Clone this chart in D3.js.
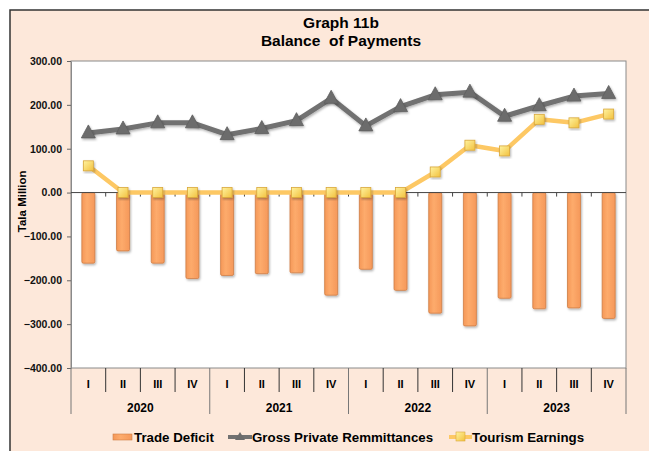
<!DOCTYPE html>
<html>
<head>
<meta charset="utf-8">
<script src="https://cdn.jsdelivr.net/npm/d3@7"></script>
<style>
  body { margin: 0; background: #fff; }
  svg { display: block; font-family: "Liberation Sans", Arial, sans-serif; }
</style>
</head>
<body>
<div id="chart"></div>
<script>
const quarters = ["I", "II", "III", "IV", "I", "II", "III", "IV", "I", "II", "III", "IV", "I", "II", "III", "IV"];
const years = ["2020", "2021", "2022", "2023"];
const tradeDeficit = [-161, -133, -161, -196, -189, -185, -183, -234, -175, -223, -275, -304, -241, -265, -263, -287];
const remittances = [136, 145, 159, 159, 132, 146, 164, 215, 152, 196, 223, 229, 174, 198, 220, 226];
const tourism = [61, 0, 0, 0, 0, 0, 0, 0, 0, 0, 47, 108, 95, 167, 159, 179];
const yTicks = [-400, -300, -200, -100, 0, 100, 200, 300];

const w = 649;
const h = 451;
const plotL = 71, plotR = 626, plotT = 61, plotB = 368;

const svg = d3
  .select("#chart")
  .append("svg")
  .attr("width", w)
  .attr("height", h);

const defs = svg.append("defs");

const barGrad = defs.append("linearGradient").attr("id", "barGrad").attr("x1", 0).attr("x2", 1);
barGrad.append("stop").attr("offset", "0%").attr("stop-color", "#f59858");
barGrad.append("stop").attr("offset", "40%").attr("stop-color", "#fdab6c");
barGrad.append("stop").attr("offset", "100%").attr("stop-color", "#f5985a");

const sqGrad = defs.append("linearGradient").attr("id", "sqGrad").attr("x1", 0).attr("y1", 0).attr("x2", 1).attr("y2", 1);
sqGrad.append("stop").attr("offset", "0%").attr("stop-color", "#fff3a0");
sqGrad.append("stop").attr("offset", "100%").attr("stop-color", "#f2c13e");

const shadow = defs.append("filter").attr("id", "shadow")
  .attr("x", "-30%").attr("y", "-30%").attr("width", "160%").attr("height", "160%");
shadow.append("feDropShadow")
  .attr("dx", 1).attr("dy", 1.5).attr("stdDeviation", 1)
  .attr("flood-color", "#000").attr("flood-opacity", 0.3);

// background panel
svg.append("rect")
  .attr("x", 10).attr("y", 10)
  .attr("width", w + 20).attr("height", h + 20)
  .attr("fill", "#fde8da")
  .attr("stroke", "#333")
  .attr("stroke-width", 1.5);

svg.append("text")
  .text("Graph 11b")
  .attr("x", 341).attr("y", 28)
  .attr("text-anchor", "middle")
  .attr("font-size", 15.5).attr("font-weight", "bold");

svg.append("text")
  .text("Balance  of Payments")
  .attr("x", 341).attr("y", 46)
  .attr("text-anchor", "middle")
  .attr("font-size", 15.5).attr("font-weight", "bold")
  .style("white-space", "pre");

// plot area
svg.append("rect")
  .attr("x", plotL).attr("y", plotT)
  .attr("width", plotR - plotL).attr("height", plotB - plotT)
  .attr("fill", "#fff")
  .attr("stroke", "#8a8a8a");

const x = d3.scaleBand().domain(d3.range(16)).range([plotL, plotR]);
const y = d3.scaleLinear().domain([-400, 300]).range([plotB, plotT]);
const cx = (i) => x(i) + x.bandwidth() / 2;

const yAxis = svg.append("g")
  .attr("transform", `translate(${plotL},0)`)
  .call(d3.axisLeft(y).tickValues(yTicks).tickFormat(d3.format(".2f")).tickSize(4).tickSizeOuter(0));
yAxis.select(".domain").attr("stroke", "#8a8a8a");
yAxis.selectAll(".tick line").attr("stroke", "#666");
yAxis.selectAll(".tick text")
  .attr("x", -9)
  .attr("font-size", 10.5).attr("font-weight", "bold")
  .attr("font-family", "Liberation Sans, Arial, sans-serif")
  .attr("fill", "#111");

svg.append("text")
  .text("Tala Million")
  .attr("transform", `translate(26,${y(-20)}) rotate(-90)`)
  .attr("text-anchor", "middle")
  .attr("font-size", 11.5).attr("font-weight", "bold");

// bars
svg.append("g")
  .selectAll("rect")
  .data(tradeDeficit)
  .enter()
  .append("rect")
  .attr("x", (d, i) => cx(i) - 6.5)
  .attr("y", y(0))
  .attr("width", 13)
  .attr("height", (d) => y(d) - y(0))
  .attr("rx", 1.5)
  .attr("fill", "url(#barGrad)")
  .attr("stroke", "#cf7d45")
  .attr("stroke-width", 0.8)
  .attr("filter", "url(#shadow)");

// zero line with category ticks
svg.append("line")
  .attr("x1", plotL).attr("x2", plotR)
  .attr("y1", y(0)).attr("y2", y(0))
  .attr("stroke", "#444").attr("stroke-width", 1);

svg.append("g")
  .selectAll("line")
  .data(d3.range(1, 16))
  .enter()
  .append("line")
  .attr("x1", (d) => x(d)).attr("x2", (d) => x(d))
  .attr("y1", y(0)).attr("y2", y(0) + 4)
  .attr("stroke", "#444");

// remittances
const line = d3.line().x((d, i) => cx(i)).y((d) => y(d));

svg.append("path")
  .datum(remittances)
  .attr("d", line)
  .attr("fill", "none")
  .attr("stroke", "#717171")
  .attr("stroke-width", 5)
  .attr("stroke-linejoin", "round")
  .attr("filter", "url(#shadow)");

svg.append("g")
  .selectAll("path")
  .data(remittances)
  .enter()
  .append("path")
  .attr("d", "M0,-8 L7,5 L-7,5 Z")
  .attr("transform", (d, i) => `translate(${cx(i)},${y(d)})`)
  .attr("fill", "#6c6c6c")
  .attr("stroke", "#5e5e5e")
  .attr("stroke-width", 0.8)
  .attr("filter", "url(#shadow)");

// tourism
svg.append("path")
  .datum(tourism)
  .attr("d", line)
  .attr("fill", "none")
  .attr("stroke", "#fdc864")
  .attr("stroke-width", 4.5)
  .attr("stroke-linejoin", "round");

svg.append("g")
  .selectAll("rect")
  .data(tourism)
  .enter()
  .append("rect")
  .attr("x", (d, i) => cx(i) - 5)
  .attr("y", (d) => y(d) - 5)
  .attr("width", 10).attr("height", 10)
  .attr("fill", "url(#sqGrad)")
  .attr("stroke", "#d9a73a")
  .attr("stroke-width", 0.8)
  .attr("filter", "url(#shadow)");

// category axis
const cat = svg.append("g");

cat.selectAll("line.q")
  .data(d3.range(0, 17))
  .enter()
  .append("line")
  .attr("class", "q")
  .attr("x1", (d) => (d === 16 ? plotR : x(d))).attr("x2", (d) => (d === 16 ? plotR : x(d)))
  .attr("y1", plotB)
  .attr("y2", (d) => (d % 4 === 0 ? 414 : 392))
  .attr("stroke", (d) => (d % 4 === 0 ? "#777" : "#333"))
  .attr("stroke-width", 1);

cat.selectAll("text.q")
  .data(quarters)
  .enter()
  .append("text")
  .attr("class", "q")
  .text((d) => d)
  .attr("x", (d, i) => cx(i))
  .attr("y", 388)
  .attr("text-anchor", "middle")
  .attr("font-size", 11).attr("font-weight", "bold");

cat.selectAll("text.y")
  .data(years)
  .enter()
  .append("text")
  .attr("class", "y")
  .text((d) => d)
  .attr("x", (d, i) => (x(i * 4) + x(i * 4 + 3) + x.bandwidth()) / 2)
  .attr("y", 412)
  .attr("text-anchor", "middle")
  .attr("font-size", 12).attr("font-weight", "bold");

// legend
const legend = svg.append("g").attr("font-size", 13.3).attr("font-weight", "bold");

legend.append("rect")
  .attr("x", 113).attr("y", 434).attr("width", 19).attr("height", 6)
  .attr("fill", "url(#barGrad)").attr("stroke", "#cf7d45").attr("stroke-width", 0.6);
legend.append("text").text("Trade Deficit").attr("x", 134).attr("y", 442);

legend.append("line")
  .attr("x1", 228).attr("x2", 252).attr("y1", 437).attr("y2", 437)
  .attr("stroke", "#717171").attr("stroke-width", 4);
legend.append("path")
  .attr("d", "M0,-5 L5,3 L-5,3 Z")
  .attr("transform", "translate(240,437)")
  .attr("fill", "#6c6c6c");
legend.append("text").text("Gross Private Remmittances").attr("x", 252).attr("y", 442);

legend.append("line")
  .attr("x1", 449).attr("x2", 472).attr("y1", 437).attr("y2", 437)
  .attr("stroke", "#fdc864").attr("stroke-width", 4);
legend.append("rect")
  .attr("x", 456).attr("y", 432).attr("width", 9).attr("height", 9)
  .attr("fill", "url(#sqGrad)").attr("stroke", "#d9a73a").attr("stroke-width", 0.6);
legend.append("text").text("Tourism Earnings").attr("x", 472).attr("y", 442);
</script>
</body>
</html>
